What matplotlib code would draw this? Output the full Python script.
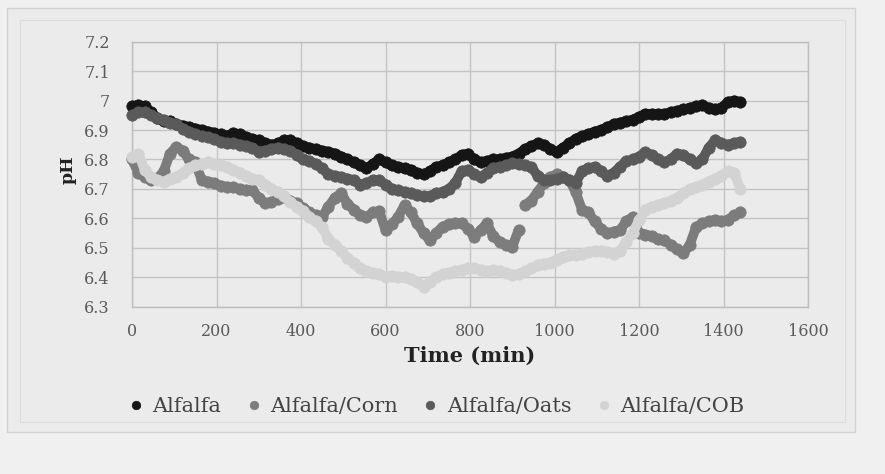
import matplotlib
matplotlib.use("Agg")
import matplotlib.pyplot as plt
import numpy as np
from matplotlib.patches import Rectangle

# ---------------- data (pH read every 15 min) ----------------
time_min = list(range(0, 1441, 15))

alfalfa = [
    6.98, 6.985, 6.98, 6.96, 6.94, 6.93, 6.93, 6.92,
    6.915, 6.91, 6.905, 6.90, 6.895, 6.89, 6.885, 6.88,
    6.89, 6.885, 6.875, 6.87, 6.865, 6.855, 6.85, 6.855,
    6.865, 6.865, 6.855, 6.845, 6.84, 6.835, 6.83, 6.826,
    6.82, 6.81, 6.80, 6.79, 6.78, 6.77, 6.785, 6.80,
    6.79, 6.78, 6.775, 6.77, 6.765, 6.755, 6.75, 6.76,
    6.775, 6.78, 6.79, 6.80, 6.815, 6.82, 6.80, 6.79,
    6.795, 6.80, 6.80, 6.805, 6.81, 6.82, 6.835, 6.845,
    6.855, 6.85, 6.835, 6.826, 6.84, 6.855, 6.87, 6.88,
    6.885, 6.895, 6.90, 6.91, 6.92, 6.925, 6.93, 6.935,
    6.945, 6.955, 6.955, 6.955, 6.955, 6.96, 6.965, 6.97,
    6.975, 6.98, 6.985, 6.975, 6.97, 6.975, 6.995, 7.0,
    6.995,
]

alfalfa_corn = [
    6.80, 6.755, 6.74, 6.73, 6.735, 6.76, 6.82, 6.843,
    6.83, 6.80, 6.79, 6.73, 6.725, 6.72, 6.71, 6.707,
    6.705, 6.70, 6.695, 6.695, 6.67, 6.651, 6.655, 6.665,
    6.674, 6.66, 6.651, 6.635, 6.62, 6.61, 6.605, 6.64,
    6.67, 6.685, 6.65, 6.63, 6.61, 6.605, 6.62, 6.625,
    6.56, 6.58, 6.605, 6.645, 6.62, 6.583, 6.55, 6.526,
    6.55, 6.572, 6.58, 6.585, 6.583, 6.565, 6.538, 6.56,
    6.583, 6.54, 6.52, 6.51, 6.504, 6.56, 6.645, 6.66,
    6.69, 6.72, 6.74, 6.75, 6.74, 6.73, 6.69, 6.63,
    6.62, 6.59, 6.565, 6.55, 6.555, 6.56, 6.59, 6.605,
    6.55, 6.545, 6.54, 6.53, 6.525, 6.51, 6.495, 6.481,
    6.51, 6.57, 6.583, 6.59, 6.595, 6.59, 6.595, 6.61,
    6.62,
]

alfalfa_oats = [
    6.95, 6.96, 6.96, 6.95, 6.94, 6.935, 6.925, 6.92,
    6.905, 6.895, 6.885, 6.88, 6.875, 6.87, 6.86, 6.855,
    6.855, 6.85, 6.845, 6.84, 6.826, 6.83, 6.835, 6.84,
    6.835, 6.83, 6.815, 6.80, 6.795, 6.785, 6.77, 6.75,
    6.745, 6.74, 6.735, 6.73, 6.715, 6.72, 6.73, 6.73,
    6.715, 6.70, 6.695, 6.69, 6.685, 6.68, 6.675, 6.675,
    6.685, 6.69, 6.70, 6.72, 6.76, 6.765, 6.75, 6.74,
    6.755, 6.77, 6.775, 6.78, 6.787, 6.785, 6.78, 6.775,
    6.745, 6.73, 6.73, 6.735, 6.74, 6.73, 6.72, 6.76,
    6.77, 6.775, 6.76, 6.745, 6.755, 6.775, 6.795, 6.80,
    6.81, 6.825, 6.815, 6.80, 6.79, 6.80, 6.82, 6.815,
    6.80, 6.787, 6.80, 6.84, 6.865, 6.855, 6.85, 6.855,
    6.86,
]

alfalfa_cob = [
    6.81, 6.82, 6.765, 6.74, 6.73, 6.725, 6.735, 6.74,
    6.755, 6.77, 6.78, 6.785, 6.79, 6.785, 6.78, 6.775,
    6.765, 6.755, 6.745, 6.735, 6.73, 6.715, 6.70, 6.69,
    6.675, 6.655, 6.64, 6.625, 6.605, 6.59, 6.57, 6.53,
    6.51, 6.49, 6.465, 6.45, 6.43, 6.42, 6.415, 6.41,
    6.40, 6.405, 6.40, 6.40, 6.395, 6.385, 6.368, 6.385,
    6.40, 6.41, 6.415, 6.42, 6.424, 6.43, 6.43, 6.425,
    6.42, 6.424, 6.42, 6.415, 6.408, 6.41, 6.42, 6.43,
    6.44, 6.445, 6.45, 6.46, 6.47, 6.475, 6.475, 6.48,
    6.485, 6.49, 6.49, 6.485, 6.48, 6.49, 6.52, 6.55,
    6.594, 6.628, 6.64, 6.645, 6.651, 6.66, 6.67, 6.685,
    6.70, 6.707, 6.715, 6.725, 6.735, 6.745, 6.76, 6.755,
    6.70,
]

series_names = ["Alfalfa", "Alfalfa/Corn", "Alfalfa/Oats", "Alfalfa/COB"]
series_values = [alfalfa, alfalfa_corn, alfalfa_oats, alfalfa_cob]
series_colors = ["#151515", "#7c7c7c", "#5a5a5a", "#d3d3d3"]

x_ticks = [0, 200, 400, 600, 800, 1000, 1200, 1400, 1600]
y_ticks = [6.3, 6.4, 6.5, 6.6, 6.7, 6.8, 6.9, 7.0, 7.1, 7.2]
y_tick_labels = ["6.3", "6.4", "6.5", "6.6", "6.7", "6.8", "6.9", "7", "7.1", "7.2"]

# ---------------- figure ----------------
W, H = 885, 474
fig = plt.figure(figsize=(W / 100, H / 100), dpi=100)
fig.patch.set_facecolor("#f0f0f0")

# chart area boxes (behind the axes)
fig.patches.append(Rectangle((7 / W, 1 - 432 / H), (855 - 7) / W, (432 - 8) / H,
                             transform=fig.transFigure, facecolor="#ebebeb",
                             edgecolor="#d2d2d2", lw=1.0, zorder=-10))
fig.patches.append(Rectangle((20 / W, 1 - 422 / H), (845 - 20) / W, (422 - 20) / H,
                             transform=fig.transFigure, facecolor="none",
                             edgecolor="#dcdcdc", lw=0.8, zorder=-9))

left, right = 132 / W, 808 / W
top, bottom = 1 - 41.7 / H, 1 - 306.7 / H
ax = fig.add_axes([left, bottom, right - left, top - bottom])
ax.set_zorder(5)
ax.set_facecolor("#ebebeb")

for k, (name, vals, col) in enumerate(zip(series_names, series_values, series_colors)):
    t = np.asarray(time_min, dtype=float)
    v = np.asarray(vals, dtype=float)
    # dense marker trail: thick joining line broken where the record jumps
    breaks = np.where(np.abs(np.diff(v)) > 0.08)[0] + 1
    for tt, vv in zip(np.split(t, breaks), np.split(v, breaks)):
        ax.plot(tt, vv, "-", color=col, lw=7.0, solid_capstyle="round",
                solid_joinstyle="round", zorder=3 + k * 0.1, clip_on=False)
    ax.plot(t, v, linestyle="none", marker="o", markersize=8.2,
            markerfacecolor=col, markeredgecolor=col, markeredgewidth=0.5,
            label=name, zorder=3 + k * 0.1 + 0.05, clip_on=False)

ax.set_xlim(0, 1600)
ax.set_ylim(6.3, 7.2)
ax.set_xticks(x_ticks)
ax.set_yticks(y_ticks)
ax.set_yticklabels(y_tick_labels)
ax.grid(True, color="#c4c4c4", lw=1.0, zorder=0)
ax.set_axisbelow(True)
for s in ax.spines.values():
    s.set_color("#bdbdbd")
    s.set_linewidth(1.0)

font = "DejaVu Serif"
ax.tick_params(length=0, labelsize=11.5, labelcolor="#5a5a5a")
ax.tick_params(axis="x", pad=12)
ax.tick_params(axis="y", pad=16)
for lab in ax.get_xticklabels() + ax.get_yticklabels():
    lab.set_family(font)

ax.set_xlabel("Time (min)", family=font, fontsize=15, fontweight="bold", color="#222222")
ax.xaxis.set_label_coords(0.5, (306.7 - 356) / 265)
ax.xaxis.label.set_va("center")
ax.set_ylabel("pH", family=font, fontsize=12.5, fontweight="bold", color="#222222")
ax.yaxis.set_label_coords((68 - 132) / 676, (306.7 - 170) / 265)
ax.yaxis.label.set_va("center")

handles, labels = ax.get_legend_handles_labels()
leg = fig.legend(handles, labels, loc="center", bbox_to_anchor=(437 / W, 1 - 407 / H),
                 ncol=4, frameon=False, prop={"family": font, "size": 15},
                 markerscale=0.75, handlelength=0.6, handletextpad=0.5,
                 columnspacing=1.25, labelcolor="#444444")

fig.savefig("out.png", dpi=100, facecolor=fig.get_facecolor())
